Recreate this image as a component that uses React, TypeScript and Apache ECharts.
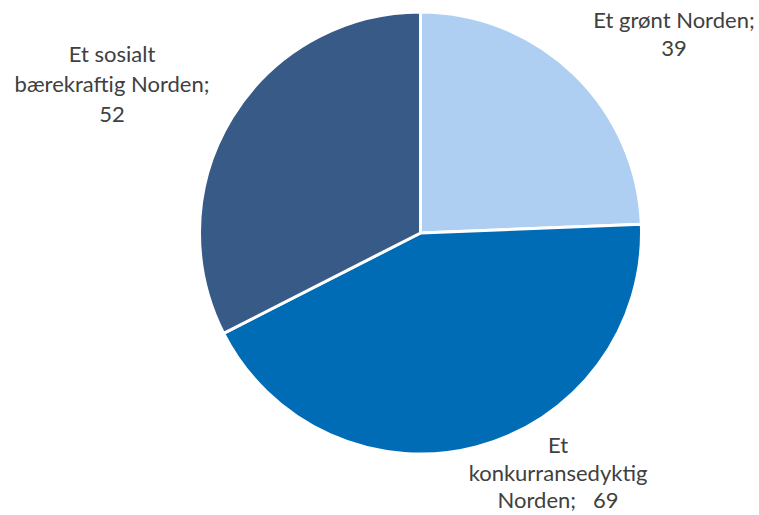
import React, { useEffect, useRef } from "react";
import * as echarts from "echarts";

const categories = ["Et grønt Norden", "Et\nkonkurransedyktig\nNorden", "Et sosialt\nbærekraftig Norden"];
const values = [39, 69, 52];
const separators = [";\n", ";   ", ";\n"];
const colors = ["#AECFF1", "#006CB5", "#385A87"];
const labelPos = [
  { x: 674, y: 5, lh: 28 },
  { x: 558, y: 431, lh: 27.5 },
  { x: 112, y: 38, lh: 30 },
];

export default function App() {
  const ref = useRef<HTMLDivElement>(null);
  useEffect(() => {
    document.body.style.margin = "0";
    const chart = echarts.init(ref.current!, null, { renderer: "svg" });
    chart.setOption({
      animation: false,
      backgroundColor: "#ffffff",
      series: [
        {
          type: "pie",
          center: [420.5, 233],
          radius: [0, 221],
          startAngle: 90,
          clockwise: true,
          avoidLabelOverlap: false,
          itemStyle: { borderColor: "#ffffff", borderWidth: 3 },
          label: {
            show: true,
            position: "outside",
            color: "#404040",
            fontFamily: "Lato",
            fontSize: 22,
            lineHeight: 28,
            align: "center",
            formatter: (p: any) => p.name + separators[p.dataIndex] + p.value,
          },
          labelLine: { show: false },
          labelLayout: (p: any) => ({
            x: labelPos[p.dataIndex].x,
            y: labelPos[p.dataIndex].y,
            align: "center",
            verticalAlign: "top",
          }),
          data: categories.map((c, i) => ({
            name: c,
            value: values[i],
            itemStyle: { color: colors[i] },
            label: { lineHeight: labelPos[i].lh },
          })),
        },
      ],
    });
    return () => chart.dispose();
  }, []);
  return <div ref={ref} style={{ width: 759, height: 515 }} />;
}
